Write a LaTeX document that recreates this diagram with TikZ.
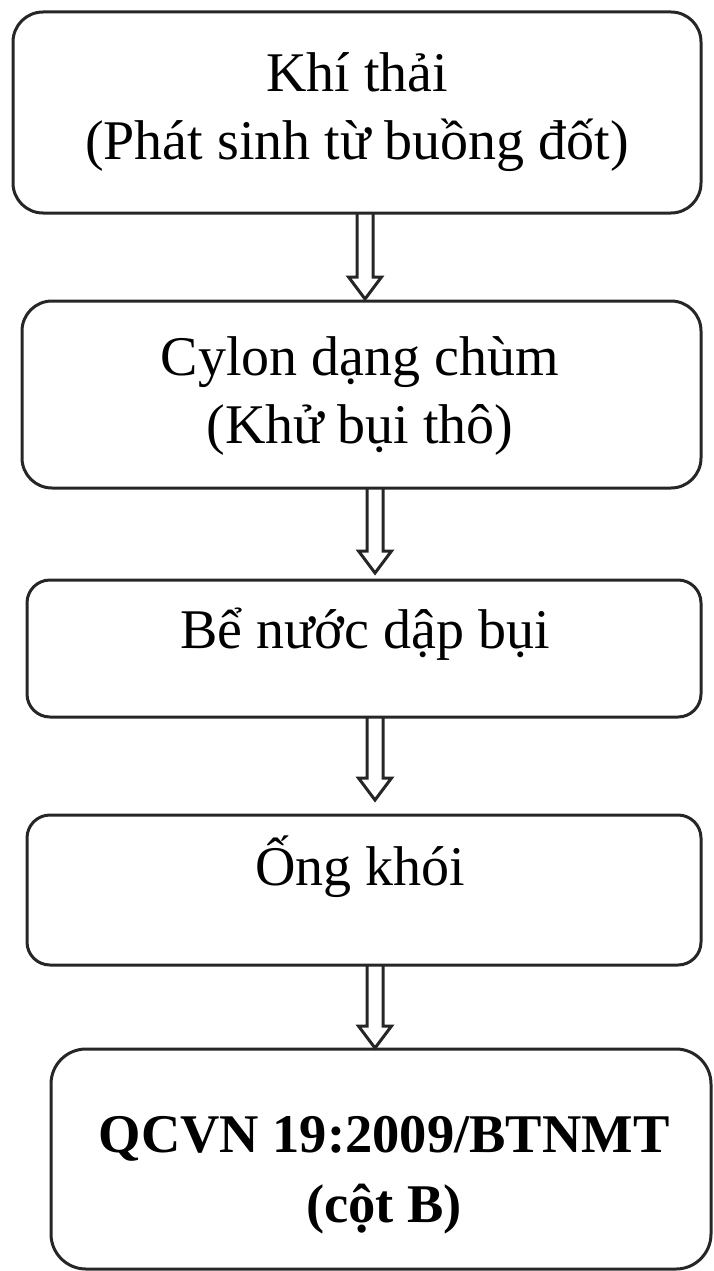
\documentclass[tikz,border=0pt]{standalone}
\usepackage{fontspec}
\setmainfont{Liberation Serif}
\usetikzlibrary{calc}
\newcommand\blockarr[2]{%
  \draw[hollow] let \p1=(#1), \p2=(#2) in
    (\x1-8pt,\y1) -- (\x1-8pt,\y2+22pt) -- (\x1-16.5pt,\y2+22pt) -- (\x1,\y2)
    -- (\x1+16.5pt,\y2+22pt) -- (\x1+8pt,\y2+22pt) -- (\x1+8pt,\y1);}
\begin{document}
\begin{tikzpicture}[x=1pt,y=-1pt,
  box/.style={draw=black!85, line width=3pt, inner sep=0pt, outer sep=0pt},
  lbl/.style={anchor=base, inner sep=0pt, font=\fontsize{56}{60}\selectfont},
  blbl/.style={anchor=base, inner sep=0pt, font=\fontsize{54.5}{60}\selectfont\bfseries},
  hollow/.style={draw=black!85, line width=3pt, line join=miter}]
\useasboundingbox (0,0) rectangle (713,1271);

\node[box, rounded corners=30pt, minimum width=688pt, minimum height=201pt] (b1) at (357,112.5) {};
\node[box, rounded corners=30pt, minimum width=679pt, minimum height=187pt] (b2) at (361.5,394.5) {};
\node[box, rounded corners=23pt, minimum width=674pt, minimum height=137pt] (b3) at (364,648.5) {};
\node[box, rounded corners=23pt, minimum width=674pt, minimum height=150pt] (b4) at (364,890) {};
\node[box, rounded corners=35pt, minimum width=660pt, minimum height=220pt] (b5) at (381,1159) {};

\node[lbl] (t1a) at (357,92) {Khí thải};
\node[lbl] (t1b) at (357,160) {(Phát sinh từ buồng đốt)};
\node[lbl] (t2a) at (360,375) {Cylon dạng chùm};
\node[lbl] (t2b) at (360,443) {(Khử bụi thô)};
\node[lbl] (t3) at (365,648) {Bể nước dập bụi};
\node[lbl] (t4) at (360,885) {Ống khói};
\node[blbl] (t5a) at (384,1152) {QCVN 19:2009/BTNMT};
\node[blbl] (t5b) at (384,1222) {(cột B)};

\coordinate (s1) at ([xshift=8pt]b1.south);
\coordinate (e1) at ([xshift=3.5pt,yshift=2pt]b2.north);
\coordinate (s2) at ([xshift=13.5pt]b2.south);
\coordinate (e2) at ([xshift=11pt,yshift=7pt]b3.north);
\coordinate (s3) at ([xshift=11pt]b3.south);
\coordinate (e3) at ([xshift=11pt,yshift=15pt]b4.north);
\coordinate (s4) at ([xshift=11pt]b4.south);
\coordinate (e4) at ([xshift=-6pt,yshift=1pt]b5.north);
\blockarr{s1}{e1}
\blockarr{s2}{e2}
\blockarr{s3}{e3}
\blockarr{s4}{e4}
\end{tikzpicture}
\end{document}
